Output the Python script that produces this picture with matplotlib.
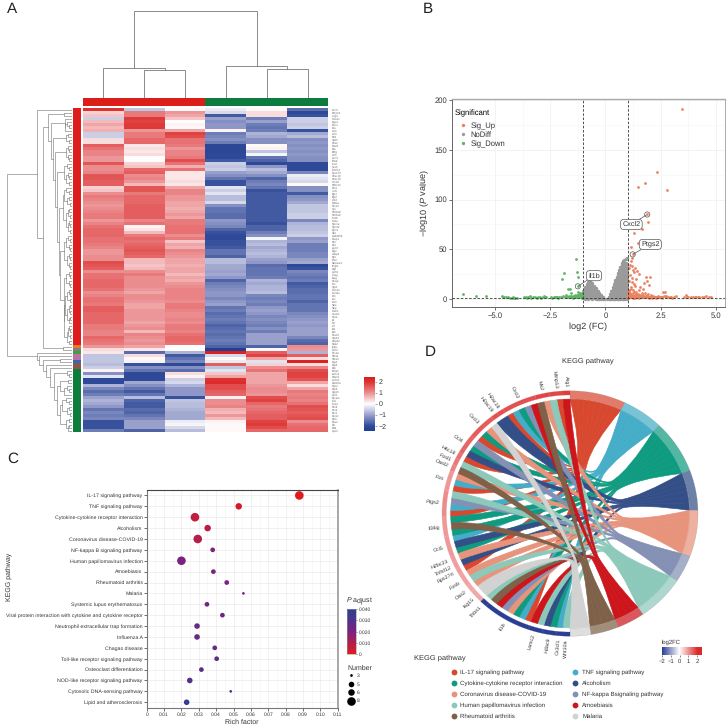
import numpy as np
import matplotlib
matplotlib.use('Agg')
import matplotlib.pyplot as plt
from matplotlib.colors import LinearSegmentedColormap, Normalize
from matplotlib.cm import ScalarMappable
from matplotlib.lines import Line2D
from matplotlib.path import Path
from matplotlib.patches import PathPatch, Polygon

plt.rcParams['font.family'] = ['Liberation Sans', 'DejaVu Sans']
plt.rcParams['mathtext.fontset'] = 'custom'
plt.rcParams['mathtext.it'] = 'Liberation Sans:italic'
plt.rcParams['mathtext.rm'] = 'Liberation Sans'
plt.rcParams['text.hinting'] = 'no_hinting'

W, H = 727, 726

# --- A: heatmap values, one list per sample ---
sample_1 = [2.0,.4,.5,-.5,.6,.8,.6,.7,-.5,-.5,.3,.3,1.5,1.3,1.1,1.1,.9,.9,1.6,1.0,1.0,1.1,1.6,1.6,1.5,1.5,.4,.5,1.0,1.2,1.1,1.0,.9,1.0,1.1,1.2,1.2,.9,1.1,1.3,1.4,
            1.4,1.4,1.3,1.3,1.2,1.1,.9,.9,1.0,1.0,1.7,1.6,1.5,1.0,1.3,1.3,1.4,1.4,1.4,1.3,1.0,1.1,1.3,1.3,1.2,1.5,1.5,1.4,1.4,1.4,1.4,1.2,1.2,1.1,1.1,1.4,1.3,1.2,.9,.3,
            .2,-.6,-.6,-.6,-.7,-.5,.1,-1.2,-.3,-2,-2,-.8,-1.3,-1.6,-1.4,-1.0,-.8,-.9,-1.1,-1.5,-1.3,-1.4,-1.3,-1.9,-1.9,-1.9,-1.4]
sample_2 = [-.6,1.2,1.2,1.9,1.8,1.9,1.9,.9,1.2,1.2,1.4,1.4,.2,.3,.2,.3,0,0,.4,.5,1.4,1.5,1.0,1.1,.9,.6,1.6,1.6,1.2,1.4,1.4,1.4,1.5,1.5,1.5,1.5,1.5,1.1,1.3,.1,.2,
            .6,1.2,1.4,1.3,1.4,1.5,1.6,1.5,1.4,.6,.6,.5,.6,1.0,1.2,1.0,1.0,1.0,1.0,.9,.8,1.0,1.0,.9,.8,.8,.9,.9,.9,.9,.8,.9,1.0,.6,1.1,1.0,.9,1.0,.8,.2,
            -1.6,.3,.05,-.1,-1.9,-1.2,-1.5,-2,-2,-2,-.9,-1.2,-1.5,-1.8,-1.5,-.7,-1.7,-1.8,-1.8,-1.6,-1.7,-1.5,-1.3,-1.0,-1.0,-1.0,-1.7]
sample_3 = [.05,.9,.8,.5,0,.1,.05,.8,1.8,1.7,1.3,1.3,1.2,.9,1.1,1.1,1.2,1.7,1.3,.7,1.3,.2,.2,.2,.3,.2,.8,1.1,1.1,.9,.9,.8,.8,.7,.8,.9,.8,1.2,1.2,1.3,1.3,
            1.3,1.0,1.2,.5,.8,.7,1.1,1.0,.9,.8,.8,.7,.8,.8,.6,.8,.7,.9,1.0,1.1,1.1,1.1,1.1,1.0,1.2,1.2,1.1,1.0,1.0,1.1,1.0,1.2,1.2,1.1,1.3,1.4,1.4,1.3,0,0,
            -.8,-1.8,-1.5,-1.3,-2,-1.2,-1.6,.3,.1,-.5,-.4,-.8,-1.1,-1.1,-1.1,-1.9,-.6,-.7,-.7,-.8,-.9,-.9,-.9,-.2,-.1,-.4,-.7]
sample_4 = [-.2,-.4,-1.8,-1.0,-1.2,-1.1,-1.1,.1,-1.4,-1.3,-1.2,-1.4,-2.1,-2.1,-2.1,-2,-2,-1.8,-.5,-.6,-.5,-1.0,-1.2,-1.5,-1.9,-1.9,-.3,-.5,-.3,-.7,-.7,-.4,-1.2,-1.5,-1.5,-1.6,-1.6,-1.1,-1.2,-1.3,-1.7,
            -1.9,-2,-2,-1.9,-1.9,-1.8,-1.5,-1.5,-1.7,-.7,-.7,-.9,-.9,-1,-.9,-1.1,-1.7,-1.4,-1.3,-1.2,-1.1,-1.1,-1.3,-1.1,-1,-1.5,-1.4,-1.6,-1.5,-1.4,-1.5,-1.7,-1.6,-1.5,-1.6,-1.5,-1.4,-1.5,-1.7,-2.4,
            2.3,-.4,.05,-.2,1.5,-.6,-.3,.5,.8,2,2.1,1.7,1.7,1.5,1.4,.1,1.0,1,1.1,.7,.6,.9,.6,.1,.05,.05,.05]
sample_5 = [.05,.3,.3,-1.4,-1.0,-1.4,-1.5,-1.4,-.8,-.9,-1.2,-1.2,.05,.1,-.6,-.1,-1.5,-1.7,-2,-1.1,-.7,-.9,-1.2,-1.7,-1.4,-1.3,-1.5,-1.9,-1.8,-1.8,-1.8,-1.8,-1.8,-1.8,-1.8,-1.8,-1.8,-1.8,-1.9,-1.7,-1.7,
            -1.4,-1.2,-.1,-.8,-.7,-.9,-.8,-.7,-.8,-1,-1.1,-1.6,-1.5,-1.5,-1.5,-1.4,-.8,-.9,-.8,-.8,-.7,-1.3,-1.4,-1.3,-1.4,-1.1,-1,-1.1,-1.3,-1.2,-1.3,-1.4,-1.2,-1.4,-1.0,-1.0,-1,-1.0,-1.7,.05,
            1.5,1.8,.8,-.3,.4,1.0,1.3,.8,.8,.8,.8,.9,1.0,1.0,.9,1.7,1.8,1.4,1.2,1.3,1.4,1.5,1.5,1.8,1.9,1.7,1.4]
sample_6 = [-1.6,-2,-1.9,-.5,-.5,-.6,-.5,-1.9,-.9,-.7,-1.2,-1.1,-1.2,-1.1,-1.2,-1.1,-1.2,-1.2,-2,-2,-2,-1.3,-.2,-.3,-.4,.05,-1.2,-1.2,-1.8,-1.2,-1.1,-.9,-.6,-.6,-.6,-.5,-.5,-1.3,-.8,-.7,-.7,
            -.6,-.5,-1.1,-1.0,-1.4,-1.4,-1.4,-1.3,-1.3,-1.0,-.9,-2,-1.9,-1.3,-1.4,-1.5,-1.4,-1.8,-1.7,-1.6,-1.6,-1.5,-1.5,-1.7,-1.5,-1.5,-1.5,-1.3,-1.2,-1.1,-1.0,-1.1,-1,-1.0,-1,-1.3,-1.6,-1.7,1.0,.9,
            -.8,1.5,.3,2.3,.3,1.1,1.7,1.8,1.8,1.6,.8,.3,.8,1.2,1.1,1.2,1.1,1.3,1.7,1.6,1.5,1.6,1.7,1,1.3,1.4,1.4]

heat_genes = ['Cxcl2','Mmp13','Arg1','Hmox1','Ptgs2','Fosl1','Fos','Ccl4','Ccl3','Mx2','Isg15','Oas2','Oasl2','Il1a','Il36g','Ccl5','Cxcl3','Thbd','Lcn2','Saa3',
              'Tnfsf12','Rps27rt','H2ac18','H2ac19','H4c18','H2bc23','Fosb','Junb','Egr1','Egr2','Atf3','Nfkbia','Socs3','Slpi','S100a8','S100a9','Krt16','Krt6a','Sprr1a','Sprr2d',
              'Tgm1','Ier3','Gadd45b','Dusp1','Klf2','Klf4','Zfp36','Btg2','Cebpd','Myc','Plaur','Serpine1','Timp1','Ctgf','Cyr61','Areg','Ereg','Hbegf','Tnc','Spp1',
              'Col1a1','Col3a1','Fn1','Lox','Ptx3','Sele','Selp','Icam1','Vcam1','Nos2','Il6','Tnf','Irf7','Ifit1','Ifit3','Rsad2','Usp18','Cmpk2','Gbp2','Ly6a',
              'Cd74','H2-Aa','Nr4a1','Nr4a3','Rgs1','Pdk4','Il1b','Thbs1','Lamc2','Hdac9','Cx3cl1','Wnt10a','Sfrp2','Dkk3','Igfbp5','Cdh1','Epcam','Krt5','Krt14','Pax9',
              'Sox2','Tbx1','Foxe1','Dlx3','Msx2','Ptn','Mdk','Gpx3']

row_strip = ['#de1d1c'] * 79 + ['#e67d22', '#7f7f7f', '#3ea043', '#bf6fa6', '#bf6fa6', '#2a6fb0', '#8c564b', '#8c564b'] + ['#0d7d3c'] * 21

# distance between neighbouring rows / columns in the cluster trees
row_dist = [35.3,8,24,7,5,3,7,21,4,6,3,19.5,4,3,6,4,3,17.5,5,3,8,4,3,6,3,15.5,6,3,8,3,5,2,9,3,4,2,6,3,2,4,2,13.5,
            4,2,6,3,2,8,3,2,5,3,2,12,3,2,6,3,2,8,3,2,5,2,7,2,3,2,5,2,3,8,3,2,4,2,5,3,28.7,9,65,35.3,33.5,12,29,26,22,
            5,3,18,4,12,5,3,8,15,6,3,10,3,5,2,12,3,6,3,4]
col_dist = [29.2, 27.2, 86.2, 31.2, 28.5]

# --- B: volcano ---
nodiff_cols_x = [-1.0,-.93,-.85,-.77,-.68,-.6,-.52,-.44,-.36,-.28,-.2,-.12,-.07,
                 .08,.14,.2,.26,.32,.38,.44,.5,.56,.62,.68,.74,.8,.86,.92,.98]
nodiff_cols_y = [[1.5,3.9,6.3,8.7],[.5,2.9,5.3,7.7,10.1,12],[1.5,3.9,6.3,8.7,11.1,13.5,15.2],[.5,2.9,5.3,7.7,10.1,12.5,14.9,17],
                 [1.5,3.9,6.3,8.7,11.1,13.5,15.9,18],[.5,2.9,5.3,7.7,10.1,12.5,14.8,16],[1.5,3.9,6.3,8.7,11.1,13],[.5,2.9,5.3,7.7,9.6,11],
                 [.8,3.2,5.6,8],[.5,2.9,4.6,6],[.8,2.6,4],[.5,2],[.6],
                 [.5],[.5,2],[.5,2.5,5],[.8,3.2,5.6,8],[.5,2.9,5.3,7.7,10.1,12],[.8,3.2,5.6,8,10.4,12.8,15],
                 [.5,2.9,5.3,7.7,10.1,12.5,14.9,17.3,19],[.8,3.2,5.6,8,10.4,12.8,15.2,17.6,20,22.5],
                 [.5,2.9,5.3,7.7,10.1,12.5,14.9,17.3,19.7,22.1,24.5,26],[.8,3.2,5.6,8,10.4,12.8,15.2,17.6,20,22.4,24.8,27.2,29],
                 [.5,2.9,5.3,7.7,10.1,12.5,14.9,17.3,19.7,22.1,24.5,26.9,29.3,32],
                 [.8,3.2,5.6,8,10.4,12.8,15.2,17.6,20,22.4,24.8,27.2,29.6,32,34.4,36],
                 [.5,2.9,5.3,7.7,10.1,12.5,14.9,17.3,19.7,22.1,24.5,26.9,29.3,31.7,34.1,36.5,38],
                 [.8,3.2,5.6,8,10.4,12.8,15.2,17.6,20,22.4,24.8,27.2,29.6,32,34.4,36.8,39],
                 [.5,2.9,5.3,7.7,10.1,12.5,14.9,17.3,19.7,22.1,24.5,26.9,29.3,31.7,34.1,36.5,40],
                 [.8,3.2,5.6,8,10.4,12.8,15.2,17.6,20,22.4,24.8,27.2,29.6,32,35,41]]
up_x = [3.48,2.31,1.77,1.45,2.8,1.89,1.92,1.67,1.29,1.46,1.15,1.23,1.2,1.17,1.1,1.08,1.21,1.25,1.3,1.35,1.42,1.5,1.12,1.18,1.05,1.38,1.22,1.28,1.16,1.33,
        1.83,2.01,1.9,1.97,1.74,1.68,1.55,1.26,1.06,1.31,1.02,1.04,1.07,1.09,1.11,1.13,1.14,1.19,1.24,1.27,1.32,1.36,1.4,1.44,1.48,1.52,1.56,1.6,1.64,1.7,
        1.72,1.78,1.8,1.85,1.88,1.93,1.95,2.0,2.05,2.1,2.15,2.2,2.25,2.3,2.4,2.45,2.5,2.55,2.6,2.68,2.72,2.75,2.85,2.95,3.1,3.2,3.55,3.65,3.7,3.75,3.85,3.95,
        4.05,4.1,4.2,4.25,4.35,4.45,4.55,4.7,4.78,1.03,1.15,1.34,1.58,1.75,1.92,2.12,2.35,
        1.01,1.03,1.05,1.07,1.1,1.13,1.16,1.2,1.23,1.28,1.33,1.38,1.43,1.47,1.53,1.58,1.62,1.67,1.72,1.82,1.87,1.96,2.03,2.18,2.28,2.42,2.58,2.65,2.9,3.0]
up_y = [191,128,117,113,110,85,77,70,66.7,56.7,52,45,41,38,34,31,33,29,27,31,28,25,24,21,18,20,17,15,12,13,
        22,22,18,14,16,10,12,9,8,7,3,5,2,6,2.5,4,10,3,6,2,4,3,7,2,5,9,3,2,6,2,
        4,2,6,3,2,5,2,2.5,4,2,3,2,2.5,2,3,2,2,2.5,7,7,3,2,2,2,2.5,3,2,4,2,2,2.5,2,2,2.5,2,2,2.5,2,3,2.5,2,1.8,2,1.7,1.9,2,2.5,1.8,2,
        1.6,7,9,4,2,5.5,2.2,4.5,1.8,3.5,2,5.5,2.5,4,1.7,4.5,2.8,3.5,1.9,3,4.2,1.7,2.2,2.8,1.6,2.4,1.7,3.2,2,1.6]
down_x = [-1.33,-1.89,-1.29,-1.95,-1.23,-1.68,-1.6,-1.23,-6.43,-5.87,-5.42,-1.05,-1.08,-1.12,-1.15,-1.18,-1.2,-1.25,-1.28,-1.3,-1.35,-1.38,-1.42,-1.45,-1.5,-1.55,
          -1.6,-1.65,-1.7,-1.78,-1.85,-1.92,-2.0,-2.1,-2.2,-2.3,-2.35,-2.45,-2.7,-2.75,-2.8,-2.85,-2.95,-3.05,-3.2,-3.3,-3.4,-3.5,-3.6,-3.7,-4.1,-4.2,-4.3,-4.4,-4.5,-4.6,-4.65,-4.7,-1.02,-1.1,-1.0,
          -1.04,-1.07,-1.14,-1.22,-1.32,-1.4,-1.48,-1.58,-1.75,-2.15,-2.25,-2.4,-2.9,-3.1,-3.35,-3.55,-4.0,-4.15,-4.25]
down_y = [40,26,27,20,22,10,10.5,13.6,5.3,3.7,3,6,2.5,4,2,5,3,7,2,4,2.5,3,2,3.5,2,6,2,3,2,4,2,3,2,2.5,2,2.5,2,2,2.5,2,3,2,2,2,2.5,2,3,2,2.5,2,1.8,2,1.7,2,2,2.5,2,3,2,3,2,
          3.5,1.8,6,4.5,2.2,4,1.7,3,2.5,1.7,2,1.8,1.7,1.8,1.7,1.8,1.7,1.8,1.6]
volcano_xticks = [-5.0, -2.5, 0, 2.5, 5.0]
volcano_yticks = [0, 50, 100, 150, 200]

# --- C: KEGG bubbles ---
pathways = ['IL-17 signaling pathway','TNF signaling pathway','Cytokine-cytokine receptor interaction','Alcoholism',
            'Coronavirus disease-COVID-19','NF-kappa B signaling pathway','Human papillomavirus infection','Amoebiasis',
            'Rheumatoid arthritis','Malaria','Systemic lupus erythematosus','Viral protein interaction with cytokine and cytokine receptor',
            'Neutrophil extracellular trap formation','Influenza A','Chagas disease','Toll-like receptor signaling pathway',
            'Osteoclast differentiation','NOD-like receptor signaling pathway','Cytosolic DNA-sensing pathway','Lipid and atherosclerosis']
rich_factor = [.0879,.053,.0278,.0351,.0294,.038,.020,.0384,.0461,.0557,.0347,.0436,.029,.029,.0392,.0403,.0315,.0248,.0484,.023]
p_adjust = [.001,.003,.007,.008,.009,.019,.02,.02,.021,.022,.022,.023,.024,.025,.026,.027,.028,.031,.034,.037]
gene_number = [8,6,8,6,8,4,8,4,4,3,4,4,5,5,4,4,4,5,3,5]
number_diam = {3: 2.7, 4: 4.7, 5: 5.6, 6: 6.5, 8: 8.6}
rich_ticks = [0,.01,.02,.03,.04,.05,.06,.07,.08,.09,.10,.11]
rich_labels = ['0','0.01','0.02','0.03','0.04','0.05','0.06','0.07','0.08','0.09','0.10','0.11']

# --- D: chord ---
chord_names = ['IL-17 signaling pathway','TNF signaling pathway','Cytokine-cytokine receptor interaction','Alcoholism',
               'Coronavirus disease-COVID-19','NF-kappa Bsignaling pathway','Human papillomavirus infection','Amoebiasis',
               'Rheumatoid arthritis','Malaria']
chord_colors = ['#d8482f','#45adc8','#0f9b80','#344f87','#e8937b','#8491b4','#8dc9ba','#cc161c','#7e6148','#d2d2d2']
chord_genes = ['Arg1','Mmp13','Mx2','Cxcl2','H2ac18','H2ac19','Cxcl3','Ccl4','H4c18','Fosl1','Oasl2','Fos','Ptgs2','Il36g','Ccl5',
               'H2bc23','Tnfsf12','Rps27rt','Fosb','Oas2','Isg15','Thbs1','Il1b','Lamc2','Hdac9','Cx3cl1','Wnt10a']
gene_links = [[7],[0,6],[4,8],[7,5,2,1,0],[3],[3],[9,4,2,0],[5,2,3],[0],[6],[8],[4,1,0],[6,5,1,0],[2,8,2],[1,3,2],
              [4],[3],[0],[4,6],[4],[9,9],[6],[8,7,5,4,2,1,0],[7,6],[3,2],[1],[6]]
gene_log2fc = [1.9,1.8,1.8,1.7,1.7,1.7,1.6,1.5,1.4,1.3,1.2,1.0,1.1,1.0,1.0,.95,.95,.95,.9,.85,.85,-2.3,-2.3,-2.3,-2.3,-2.3,-2.3]
fc_ticks = [-2,-1,0,1,2]

fig = plt.figure(figsize=(W / 100, H / 100), dpi=100)
DARK = '#333333'


def px_axes(left, top, right, bottom):
    return fig.add_axes([left / W, 1 - bottom / H, (right - left) / W, (bottom - top) / H])


def panel_text(x, y, s, **kw):
    return fig.text(x / W, 1 - y / H, s, **kw)


def tree_lines(dist, lo, hi):
    # splits a leaf range on its largest neighbour distance, returns centre and height
    if lo == hi:
        return lo + 0.5, 0.0, []
    split = lo + int(np.argmax(dist[lo:hi]))
    height = dist[split]
    c1, h1, seg1 = tree_lines(dist, lo, split)
    c2, h2, seg2 = tree_lines(dist, split + 1, hi)
    seg = seg1 + seg2 + [([c1, c1, c2, c2], [h1, height, height, h2])]
    return (c1 + c2) / 2, height, seg


# --- panel A ---
heat_cmap = LinearSegmentedColormap.from_list('heat', [
    (0.0, '#1f4093'), (0.5 - 2 / 4.9, '#2f4a98'), (0.5 - 1 / 4.9, '#9aa1cd'), (0.5, '#ffffff'),
    (0.5 + 1 / 4.9, '#ec8d90'), (0.5 + 2 / 4.9, '#dd3230'), (1.0, '#d81c1c')])
heat_norm = Normalize(-2.45, 2.45)
heat = np.array([sample_1, sample_2, sample_3, sample_4, sample_5, sample_6]).T

ax = px_axes(83, 108, 328, 432)
ax.imshow(heat, aspect='auto', cmap=heat_cmap, norm=heat_norm, interpolation='nearest')
ax.set_xticks([])
ax.yaxis.tick_right()
ax.set_yticks(range(len(heat_genes)), heat_genes, fontsize=2.0, color='#666666')
ax.tick_params(axis='y', length=0, pad=3)
for s in ax.spines.values():
    s.set_visible(False)

ax = px_axes(83, 97.5, 328, 106)
ax.imshow([[0, 0, 0, 1, 1, 1]], aspect='auto', cmap=LinearSegmentedColormap.from_list('grp', ['#db1e18', '#0d7a3e']))
ax.axis('off')

ax = px_axes(73, 108, 81, 432)
ax.imshow([[matplotlib.colors.to_rgb(c)] for c in row_strip], aspect='auto', interpolation='nearest')
ax.axis('off')

ax = px_axes(83, 5, 328, 97.5)
for xs, ys in tree_lines(col_dist, 0, 5)[2]:
    ax.plot(xs, ys, color='#777777', lw=0.6, solid_joinstyle='miter')
ax.set_xlim(0, 6)
ax.set_ylim(0, 92.5)
ax.axis('off')

ax = px_axes(7, 108, 72, 432)
for xs, ys in tree_lines(row_dist, 0, 107)[2]:
    ax.plot(ys, xs, color='#777777', lw=0.42, solid_joinstyle='miter')
ax.set_xlim(65, 0)
ax.set_ylim(108, 0)
ax.axis('off')

cax = px_axes(364, 376.7, 375, 431)
cb = fig.colorbar(ScalarMappable(heat_norm, heat_cmap), cax=cax, ticks=[-2, -1, 0, 1, 2])
cb.outline.set_visible(False)
cax.tick_params(length=1.5, width=0.4, color='#666666', labelsize=5, pad=1, labelcolor=DARK)

# --- panel B ---
ax = px_axes(451.7, 99, 725, 307.3)
for x, ys in zip(nodiff_cols_x, nodiff_cols_y):
    ax.scatter([x] * len(ys), ys, s=6, color='#9a9a9a', lw=0, zorder=2)
ax.scatter(up_x, up_y, s=4, color='#e8825f', lw=0, zorder=3)
ax.scatter(down_x, down_y, s=4, color='#5fb565', lw=0, zorder=3)
ax.set_xlim(-6.96, 5.41)
ax.set_ylim(-8, 200.7)
ax.set_xticks(volcano_xticks, ['\u22125.0', '\u22122.5', '0', '2.5', '5.0'])
ax.set_yticks(volcano_yticks)
ax.set_xticks([-3.75, -1.25, 1.25, 3.75], minor=True)
ax.set_yticks([25, 75, 125, 175], minor=True)
ax.grid(True, which='major', color='#eeeeee', lw=0.5)
ax.grid(True, which='minor', color='#f5f5f5', lw=0.4)
ax.set_axisbelow(True)
ax.tick_params(which='minor', length=0)
ax.tick_params(which='major', labelsize=5.5, length=2, width=0.5, pad=1.5, colors=DARK)
for s in ax.spines.values():
    s.set_color('#666666')
    s.set_linewidth(0.7)
ax.spines['top'].set_color('#aaaaaa')
ax.spines['top'].set_linewidth(1.0)
ax.spines['right'].set_color('#aaaaaa')
for x in (-1, 1):
    ax.axvline(x, color=DARK, lw=0.6, ls=(0, (3, 2)), zorder=4)
ax.axhline(1.3, color=DARK, lw=0.6, ls=(0, (3, 2)), zorder=4)
ax.set_xlabel('log2 (FC)', fontsize=6.6, color=DARK, labelpad=2.5)
ax.set_ylabel('\u2212log10 ($\\mathit{P}$ value)', fontsize=6.6, color=DARK, labelpad=2)
for gene, pt, txt in [('Cxcl2', (1.89, 85), (1.17, 75)), ('Ptgs2', (1.23, 45), (2.03, 55)), ('Il1b', (-1.25, 13), (-0.52, 23.7))]:
    ax.scatter(*pt, s=14, facecolor='none', edgecolor='#555555', lw=0.5, zorder=5)
    ax.annotate(gene, xy=pt, xytext=txt, fontsize=5.2, color=DARK, ha='center', va='center', zorder=6,
                bbox=dict(boxstyle='round,pad=0.25,rounding_size=0.5', fc='white', ec='#555555', lw=0.5),
                arrowprops=dict(arrowstyle='-', color='#555555', lw=0.5, shrinkA=0, shrinkB=1))
leg = ax.legend(handles=[Line2D([], [], ls='', marker='o', ms=2.4, mew=0, color=c, label=t) for c, t in
                         [('#e8825f', 'Sig_Up'), ('#9a9a9a', 'NoDiff'), ('#5fb565', 'Sig_Down')]],
                title='Significant', title_fontsize=5.5, fontsize=5.5, frameon=False, loc='upper left',
                bbox_to_anchor=(0.012, 0.948), alignment='left', labelspacing=0.2, handletextpad=0.0,
                borderaxespad=0, borderpad=0, labelcolor=DARK)
leg._legend_box.sep = 3.5

# --- panel C ---
ax = px_axes(146.7, 490, 337.7, 707.7)
pos = np.arange(len(pathways), 0, -1)
p_cmap = LinearSegmentedColormap.from_list('padj', ['#e41a1c', '#7b2280', '#2b3f92'])
p_norm = Normalize(0, 0.04)
diam = np.array([number_diam[n] for n in gene_number]) * 0.72
ax.scatter(rich_factor, pos, s=diam ** 2, c=p_adjust, cmap=p_cmap, norm=p_norm, lw=0, zorder=3)
ax.set_xlim(0, 0.11)
ax.set_ylim(0.5, 20.5)
ax.set_yticks(pos, pathways)
ax.set_xticks(rich_ticks, rich_labels)
ax.set_xticks(np.array(rich_ticks[:-1]) + 0.005, minor=True)
ax.grid(True, which='major', color='#ececec', lw=0.5)
ax.grid(True, which='minor', axis='x', color='#f4f4f4', lw=0.4)
ax.set_axisbelow(True)
ax.tick_params(which='minor', length=0)
ax.tick_params(axis='y', labelsize=3.75, length=2, width=0.5, pad=1, colors=DARK)
ax.tick_params(axis='x', labelsize=3.6, length=2, width=0.5, pad=1, colors=DARK)
ax.spines['top'].set_color('#444444')
ax.spines['top'].set_linewidth(0.8)
ax.spines['right'].set_color('#999999')
ax.spines['right'].set_linewidth(1.2)
ax.spines['left'].set_color('#777777')
ax.spines['bottom'].set_color('#777777')
ax.set_xlabel('Rich factor', fontsize=5, color=DARK, labelpad=1.5)
panel_text(8.5, 576.7, 'KEGG pathway', fontsize=5, color=DARK, rotation=90, ha='center', va='center')

cax = px_axes(346.7, 609.3, 356, 654)
cb = fig.colorbar(ScalarMappable(p_norm, p_cmap), cax=cax, ticks=[0, .01, .02, .03, .04])
cb.ax.set_yticklabels(['0', '0.010', '0.020', '0.030', '0.040'])
cb.outline.set_edgecolor('#999999')
cb.outline.set_linewidth(0.4)
cax.tick_params(length=1, width=0.4, labelsize=3.5, pad=0.8, labelcolor=DARK)
panel_text(346.5, 601, '$\\mathit{P}$ adjust', fontsize=5, color=DARK, va='center')
panel_text(347, 668, 'Number', fontsize=5, color=DARK, va='center')
fig.legend(handles=[Line2D([], [], ls='', marker='o', ms=number_diam[n] * 0.72, mew=0, color='black', label=str(n)) for n in (3, 5, 6, 8)],
           fontsize=3.6, frameon=False, loc='upper left', bbox_to_anchor=(346 / W, 1 - 673.5 / H),
           labelspacing=0.75, handletextpad=0.2, borderpad=0, borderaxespad=0, labelcolor=DARK)

# --- panel D ---
RX, RY = 128, 122.7
ax = px_axes(570 - RX, 513.5 - RY, 570 + RX, 513.5 + RY)
ax.set_xlim(-1, 1)
ax.set_ylim(-1, 1)
ax.axis('off')
fc_cmap = LinearSegmentedColormap.from_list('fc', [(0, '#2b3f92'), (0.12, '#2b3f92'), (0.5, '#ffffff'), (0.9, '#dc2a2a'), (1, '#dc2a2a')])
fc_norm = Normalize(-2.6, 2.6)


def point(angle, r=1.0):
    # angle in degrees, clockwise from the top
    a = np.radians(angle)
    return np.array([r * np.sin(a), r * np.cos(a)])


def ring(a0, a1, r0, r1):
    t = np.linspace(a0, a1, 40)
    return np.array([point(v, r1) for v in t] + [point(v, r0) for v in t[::-1]])


n_units = sum(len(g) for g in gene_links)
unit = 180 / n_units
CHORD_R = 0.932
WAIST_R = 0.42

# pathway sectors on the right
counts = [sum(g.count(i) for g in gene_links) for i in range(len(chord_names))]
starts = np.concatenate([[0], np.cumsum(counts)]) * unit
for i, c in enumerate(chord_colors):
    ax.add_patch(Polygon(ring(starts[i], starts[i + 1], 0.935, 1.0), fc=c, alpha=0.72, ec='#888888', lw=0.2, clip_on=False))

# ribbons
used = [0] * len(chord_names)
links = []
k = 0
for g, targets in enumerate(gene_links):
    k0 = k
    for t in targets:
        links.append((t, k, used[t]))
        used[t] += 1
        k += 1
    seg = ring(360 - k0 * unit, 360 - k * unit, 0.966, 1.0)
    col = fc_cmap(fc_norm(gene_log2fc[g]))
    ax.add_patch(Polygon(seg, fc=col, ec=col, lw=0.15, clip_on=False))
    mid = 360 - (k0 + k) / 2 * unit
    x, y = point(mid, 1.025)
    phi = np.radians(360 - mid)
    rot = np.degrees(np.arctan2(-np.cos(phi) * RY, np.sin(phi) * RX))
    ax.text(x, y, chord_genes[g], fontsize=3.9, color=DARK, rotation=rot, rotation_mode='anchor',
            ha='right', va='center', clip_on=False)


def waist_point(t, slot_edge):
    # every ribbon of a pathway squeezes through a narrow neck before it fans out to the genes
    sector_mid = (starts[t] + starts[t + 1]) / 2
    centre = point(sector_mid, WAIST_R)
    across = point(sector_mid + 90, 1.0)
    f = slot_edge / counts[t] - 0.5
    return centre + across * f * (0.02 + 0.008 * counts[t])


def edge_right_to_left(t, slot_edge, l_angle, l_mid):
    # returns the vertices from the sector edge to the gene edge
    r_angle = starts[t] + slot_edge * unit
    sector_mid = (starts[t] + starts[t + 1]) / 2
    p_r = point(r_angle, CHORD_R)
    w = waist_point(t, slot_edge)
    neck_dir = -point(sector_mid, 1.0)
    c_in = w - neck_dir * 0.16
    p_l = point(l_angle, CHORD_R)
    m_l = point(l_mid, CHORD_R)
    c_l = m_l * 0.68 + (p_l - m_l) * 1.0
    return p_r, c_in, w, w + neck_dir * 0.13, c_l, p_l


for t, idx, slot in sorted(links, key=lambda l: l[0]):
    l0, l1 = 360 - idx * unit, 360 - (idx + 1) * unit
    lm = (l0 + l1) / 2
    arc_l = [point(v, CHORD_R) for v in np.linspace(l0, l1, 8)]
    arc_r = [point(starts[t] + v * unit, CHORD_R) for v in np.linspace(slot + 1, slot, 8)]
    pr1, c1a, w1, c1b, c1c, pl1 = edge_right_to_left(t, slot + 1, l1, lm)
    pr0, c0a, w0, c0b, c0c, pl0 = edge_right_to_left(t, slot, l0, lm)
    verts = arc_l
    codes = [Path.MOVETO] + [Path.LINETO] * 7
    # gene edge -> neck -> sector
    verts = verts + [c1c, c1b, w1, c1a, arc_r[0]]
    codes = codes + [Path.CURVE4, Path.CURVE4, Path.CURVE4, Path.CURVE3, Path.CURVE3]
    verts = verts + arc_r[1:]
    codes = codes + [Path.LINETO] * 7
    # sector -> neck -> gene edge
    verts = verts + [c0a, w0, c0b, c0c, arc_l[0]]
    codes = codes + [Path.CURVE3, Path.CURVE3, Path.CURVE4, Path.CURVE4, Path.CURVE4]
    ax.add_patch(PathPatch(Path(verts, codes), fc=chord_colors[t], ec=chord_colors[t], lw=0.45))

panel_text(587.7, 360.7, 'KEGG pathway', fontsize=5.4, color=DARK, ha='center', va='center')
panel_text(414, 658, 'KEGG pathway', fontsize=5.4, color=DARK, va='center')
order = [0, 2, 4, 6, 8, 1, 3, 5, 7, 9]
fig.legend(handles=[Line2D([], [], ls='', marker='o', ms=4.2, mew=0, color=chord_colors[i], label=chord_names[i]) for i in order],
           ncol=2, fontsize=4.45, frameon=False, loc='upper left', bbox_to_anchor=(447.5 / W, 1 - 669.5 / H),
           labelspacing=0.88, handletextpad=0.1, columnspacing=1.0, borderpad=0, borderaxespad=0, labelcolor=DARK)

cax = px_axes(662.3, 646.7, 702.3, 655)
grad = np.linspace(-2, 2.6, 200)
cax.imshow([fc_cmap(fc_norm(grad))], aspect='auto', extent=(-2, 2.6, 0, 1))
cax.set_yticks([])
cax.set_xticks(fc_ticks, ['\u22122', '\u22121', '0', '1', '2'])
cax.tick_params(labelsize=4.2, length=1.5, width=0.4, pad=0.8, colors=DARK)
for s in cax.spines.values():
    s.set_visible(False)
panel_text(662, 642, 'log2FC', fontsize=4.2, color=DARK, va='center')

for label, x, y in [('A', 7, 9), ('B', 423, 9), ('C', 7, 459), ('D', 425, 352)]:
    panel_text(x, y, label, fontsize=11, color='#222222', ha='left', va='center')

fig.savefig('out.png', dpi=100)
